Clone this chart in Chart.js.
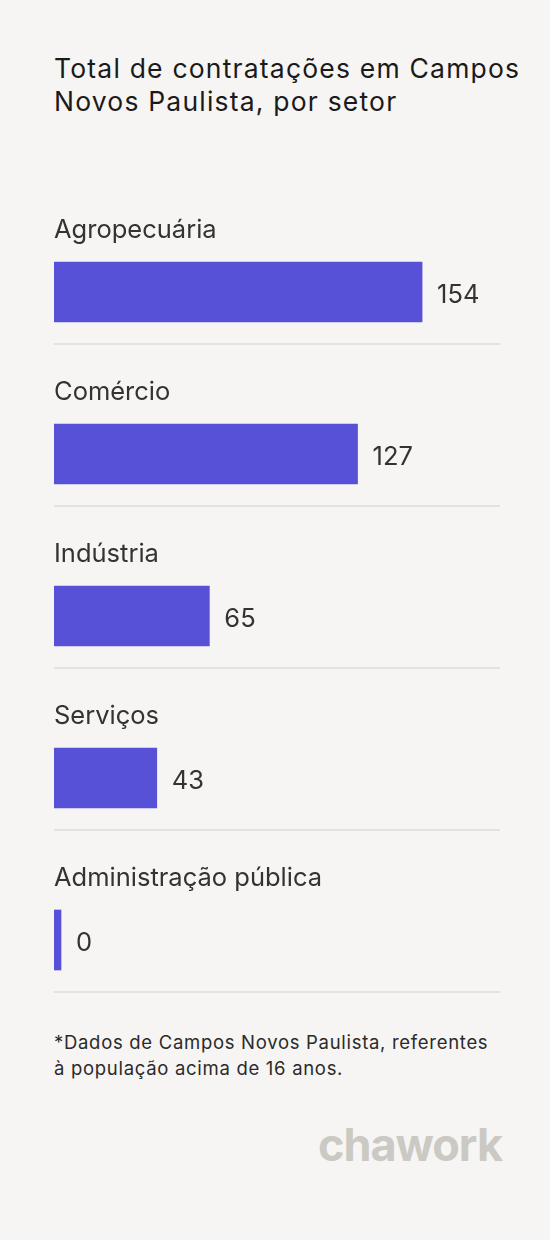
<!DOCTYPE html>
<html>
<head>
<meta charset="utf-8">
<script src="https://cdn.jsdelivr.net/npm/chart.js@4"></script>
<style>
  body { margin: 0; background: #fff; font-family: Inter, "Noto Sans", sans-serif; }
  .card { position: relative; width: 550px; height: 1240px; background: #f6f5f3; color: #222; }
  .title { position: absolute; left: 54px; top: 52px; width: 490px; font-size: 26.5px; letter-spacing: 1.2px; line-height: 33px; color: #1a1a1a; }
  .note { position: absolute; left: 54px; top: 1029px; width: 480px; font-size: 18.5px; letter-spacing: 0.7px; line-height: 26px; color: #2a2a2a; }
  .logo { position: absolute; right: 48px; top: 1117px; font-size: 45px; font-weight: 700; color: #cbc9c3; letter-spacing: -1px; }
  #wrap { position: absolute; left: 54px; top: 211px; width: 446px; height: 810px; }
</style>
</head>
<body>
<div class="card">
  <div class="title">Total de contratações em Campos<br>Novos Paulista, por setor</div>
  <div id="wrap"><canvas id="chart"></canvas></div>
  <div class="note">*Dados de Campos Novos Paulista, referentes<br>à população acima de 16 anos.</div>
  <div class="logo">chawork</div>
</div>
<script>
const sectors = ['Agropecuária', 'Comércio', 'Indústria', 'Serviços', 'Administração pública'];
const hires = [154, 127, 65, 43, 0];

const rowDecor = {
  id: 'rowDecor',
  afterDatasetsDraw(chart) {
    const ctx = chart.ctx;
    const meta = chart.getDatasetMeta(0);
    ctx.save();
    meta.data.forEach((bar, i) => {
      ctx.font = '25.5px Inter, "Noto Sans", sans-serif';
      ctx.fillStyle = '#333';
      ctx.textBaseline = 'middle';
      ctx.textAlign = 'left';
      ctx.fillText(sectors[i], 0, bar.y - 62);
      ctx.fillText(String(hires[i]), bar.x + 15, bar.y + 3);
      ctx.strokeStyle = '#dddbd7';
      ctx.lineWidth = 1.5;
      ctx.beginPath();
      ctx.moveTo(0, bar.y + 52);
      ctx.lineTo(chart.width, bar.y + 52);
      ctx.stroke();
    });
    ctx.restore();
  }
};

new Chart(document.getElementById('chart'), {
  type: 'bar',
  data: {
    labels: sectors,
    datasets: [{
      data: hires,
      backgroundColor: '#5751d7',
      barThickness: 60,
      minBarLength: 7,
      borderSkipped: false
    }]
  },
  options: {
    indexAxis: 'y',
    responsive: true,
    maintainAspectRatio: false,
    animation: false,
    layout: { padding: 0 },
    plugins: { legend: { display: false }, tooltip: { enabled: false } },
    scales: {
      x: { display: false, min: 0, max: 186.6 },
      y: { display: false }
    }
  },
  plugins: [rowDecor]
});
</script>
</body>
</html>
